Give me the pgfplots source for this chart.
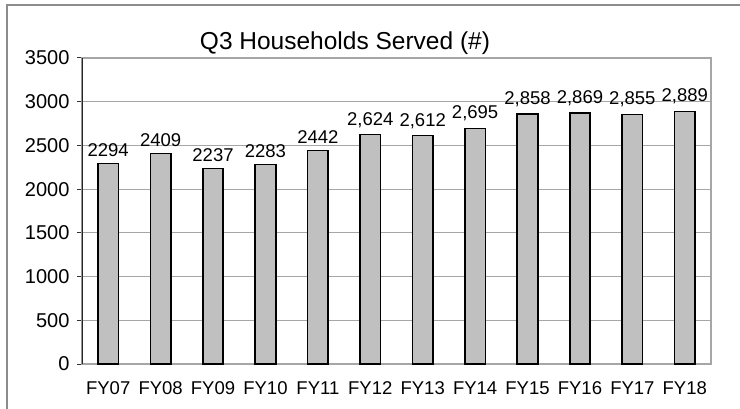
\documentclass[border=0pt]{standalone}
\usepackage{fontspec}
\setmainfont{Liberation Sans}
\usepackage{pgfplots}
\usepackage{pgfplotstable}
\pgfplotsset{compat=1.18}
\definecolor{barfill}{HTML}{C0C0C0}
\definecolor{framegray}{HTML}{8C8C8C}
\definecolor{gridgray}{HTML}{A6A6A6}
\pgfplotstableread{
x y lab
0 2294 2294
1 2409 2409
2 2237 2237
3 2283 2283
4 2442 2442
5 2624 2,624
6 2612 2,612
7 2695 2,695
8 2858 2,858
9 2869 2,869
10 2855 2,855
11 2889 2,889
}\datatable
\begin{document}
\begin{tikzpicture}[x=1pt,y=1pt]
\useasboundingbox (0,0) rectangle (740,-409);
\draw[line width=2pt, color=framegray] (7,-5) rectangle (800,-450);
\begin{axis}[
  at={(82pt,-364pt)}, anchor=south west,
  scale only axis, width=629pt, height=306pt,
  xmin=-0.5, xmax=11.5, ymin=0, ymax=3500,
  ytick={0,500,...,3500},
  xtick={0,...,11},
  xticklabels={FY07,FY08,FY09,FY10,FY11,FY12,FY13,FY14,FY15,FY16,FY17,FY18},
  ymajorgrids, grid style={color=gridgray, line width=0.9pt},
  axis line style={draw=gridgray, line width=1.5pt},
  ytick pos=left, tick align=outside, major tick length=5pt,
  ytick style={draw=black!80, line width=1pt},
  xtick style={draw=none},
  /pgf/number format/assume math mode=true,
  /pgf/number format/1000 sep={},
  yticklabel style={font=\fontsize{20}{20}\selectfont, xshift=-4pt},
  xticklabel style={font=\fontsize{18.5}{18.5}\selectfont, yshift=-9pt},
  ybar, bar width=20.5pt,
  nodes near coords,
  point meta=explicit symbolic,
  every node near coord/.append style={font=\fontsize{18.5}{18.5}\selectfont, black, yshift=3pt},
]
\addplot[fill=barfill, draw=black, line width=1.6pt] table[x=x, y=y, meta=lab] {\datatable};
\draw[black!85, line width=1.5pt] (rel axis cs:0,0) -- (rel axis cs:0,1);
\end{axis}
\node[anchor=base, font=\fontsize{24.5}{24.5}\selectfont, inner sep=0pt] at (345,-50) {Q3 Households Served (\#)};
\end{tikzpicture}
\end{document}
